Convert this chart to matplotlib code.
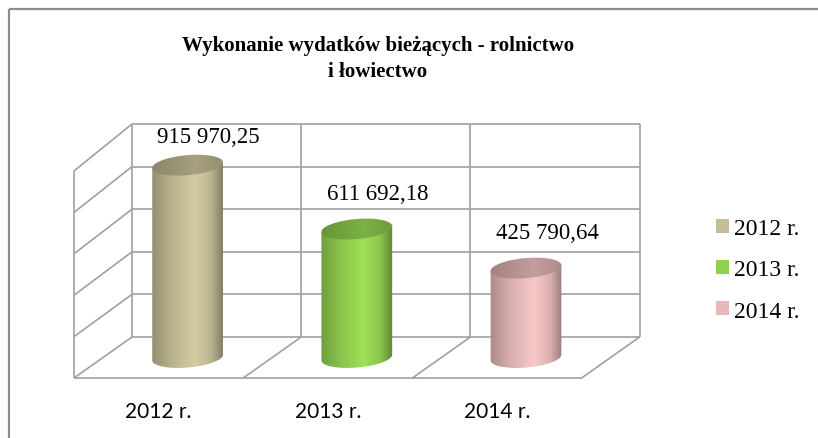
import numpy as np
import matplotlib
matplotlib.use("Agg")
import matplotlib.pyplot as plt
from matplotlib.colors import LinearSegmentedColormap, to_rgb
from matplotlib.patches import Patch, PathPatch, Rectangle
from matplotlib.path import Path

# Dane
lata = ["2012 r.", "2013 r.", "2014 r."]
wartosci = [915970.25, 611692.18, 425790.64]
kolory = ["#c4bd97", "#92d050", "#e6b9b8"]

os_max = 1000000
krok = 200000

# Geometria "3D" w pikselach
X0, Y0 = 132, 338      # lewy dolny rog tylnej sciany
KOM = 169.2            # szerokosc jednej kategorii
DX, DY = -58, 41       # przesuniecie glebokosci (tyl -> przod)
R, E = 35.5, 10        # promienie elipsy walca
KAT = np.radians(-5)   # pochylenie elipsy (perspektywa)


def skala(z):
    return 0.000213 - 0.000006 * z


def rzut(x, z, v):
    return X0 + x * KOM + DX * z, Y0 - v * skala(z) + DY * z


def elipsa(cx, cy, t):
    x = R * np.cos(t) * np.cos(KAT) - E * np.sin(t) * np.sin(KAT)
    y = R * np.cos(t) * np.sin(KAT) + E * np.sin(t) * np.cos(KAT)
    return cx + x, cy + y


def zamknij(pts):
    return Path(pts, [Path.MOVETO] + [Path.LINETO] * (len(pts) - 2) + [Path.CLOSEPOLY])


def fmt(v):
    return f"{v:,.2f}".replace(",", " ").replace(".", ",")


def odcien(kolor, f):
    return tuple(min(1, c * f) for c in to_rgb(kolor))


plt.rcParams['font.family'] = ['Liberation Serif', 'DejaVu Sans']

fig = plt.figure(figsize=(8.18, 4.39), dpi=100)
ax = fig.add_axes([0, 0, 1, 1])
ax.axis("off")

siatka = dict(color="#a0a0a0", lw=1.2, zorder=1, solid_capstyle="butt")

# sciana tylna i boczna
for v in range(0, os_max + krok, krok):
    a = rzut(0, 0, v)
    b = rzut(3, 0, v)
    c = rzut(0, 1, v)
    ax.plot([a[0], b[0]], [a[1], b[1]], **siatka)
    ax.plot([a[0], c[0]], [a[1], c[1]], **siatka)
for x in range(4):
    a = rzut(x, 0, 0)
    b = rzut(x, 0, os_max)
    ax.plot([a[0], b[0]], [a[1], b[1]], **siatka)
a = rzut(0, 1, 0)
b = rzut(0, 1, os_max)
ax.plot([a[0], b[0]], [a[1], b[1]], **siatka)

# podloga
a = rzut(0, 1, 0)
b = rzut(3, 1, 0)
ax.plot([a[0], b[0]], [a[1], b[1]], **siatka)
for x in range(1, 4):
    a = rzut(x, 0, 0)
    b = rzut(x, 1, 0)
    ax.plot([a[0], b[0]], [a[1], b[1]], **siatka)

# walce
grad = np.linspace(0, 1, 256)[None, :]
dol = np.linspace(np.pi, 2 * np.pi, 60)
calosc = np.linspace(0, 2 * np.pi, 120)
for i, (v, kol) in enumerate(zip(wartosci, kolory)):
    cx, yb = rzut(i + 0.5, 0.5, 0)
    _, yt = rzut(i + 0.5, 0.5, v)

    ex, ey = elipsa(cx, yb, -dol)
    gx, gy = elipsa(cx, yt, np.array([np.pi, 0.0]))
    pts = [(gx[0], gy[0])] + list(zip(ex, ey)) + [(gx[1], gy[1]), (gx[0], gy[0])]
    bok = PathPatch(zamknij(pts), transform=ax.transData, facecolor="none", edgecolor="none")

    cm_bok = LinearSegmentedColormap.from_list(
        "bok", [(0, odcien(kol, 0.74)), (0.3, odcien(kol, 0.95)),
                (0.6, odcien(kol, 1.08)), (0.82, odcien(kol, 0.95)),
                (1, odcien(kol, 0.62))])
    im = ax.imshow(grad, cmap=cm_bok, extent=(cx - R - 2, cx + R + 2, yb + E + 4, yt - E - 4),
                   aspect="auto", zorder=3, interpolation="bilinear")
    im.set_clip_path(bok)

    tx, ty_ = elipsa(cx, yt, calosc)
    gora = PathPatch(zamknij(list(zip(tx, ty_)) + [(tx[0], ty_[0])]),
                     transform=ax.transData, facecolor="none", edgecolor="none")
    cm_gora = LinearSegmentedColormap.from_list(
        "gora", [(0, odcien(kol, 0.7)), (0.6, odcien(kol, 0.85)), (1, odcien(kol, 0.75))])
    im2 = ax.imshow(grad, cmap=cm_gora, extent=(cx - R - 2, cx + R + 2, yt + E + 4, yt - E - 4),
                    aspect="auto", zorder=4, interpolation="bilinear")
    im2.set_clip_path(gora)

    # etykieta wartosci (w obrebie obszaru wykresu)
    ty = max(yt - 36, 138)
    ax.text(cx + 21, ty, fmt(v), ha="center", va="center", fontsize=16.5, zorder=5)

    # etykieta kategorii
    lx, _ = rzut(i + 0.5, 1, 0)
    ax.text(lx, 412, lata[i], ha="center", va="center", fontsize=15,
            family=["Lato", "DejaVu Sans"], zorder=5)

# tytul
ax.text(378, 59, "Wykonanie wydatków bieżących - rolnictwo\ni łowiectwo",
        ha="center", va="center", fontsize=15, fontweight="bold",
        linespacing=1.45, zorder=5)

# ramka
ax.add_patch(Rectangle((9, 10), 830, 450, fill=False, edgecolor="#8c8c8c", lw=1.6, zorder=6))

# legenda
uchwyty = [Patch(facecolor=k, edgecolor="none") for k in kolory]
ax.legend(uchwyty, lata, loc="center left", bbox_to_anchor=(716, 271),
          bbox_transform=ax.transData, frameon=False, fontsize=17,
          handlelength=0.55, handleheight=0.55, handletextpad=0.2,
          labelspacing=0.85, borderpad=0, borderaxespad=0)

ax.set_xlim(0, 818)
ax.set_ylim(439, 0)

fig.savefig("out.png", dpi=100)
